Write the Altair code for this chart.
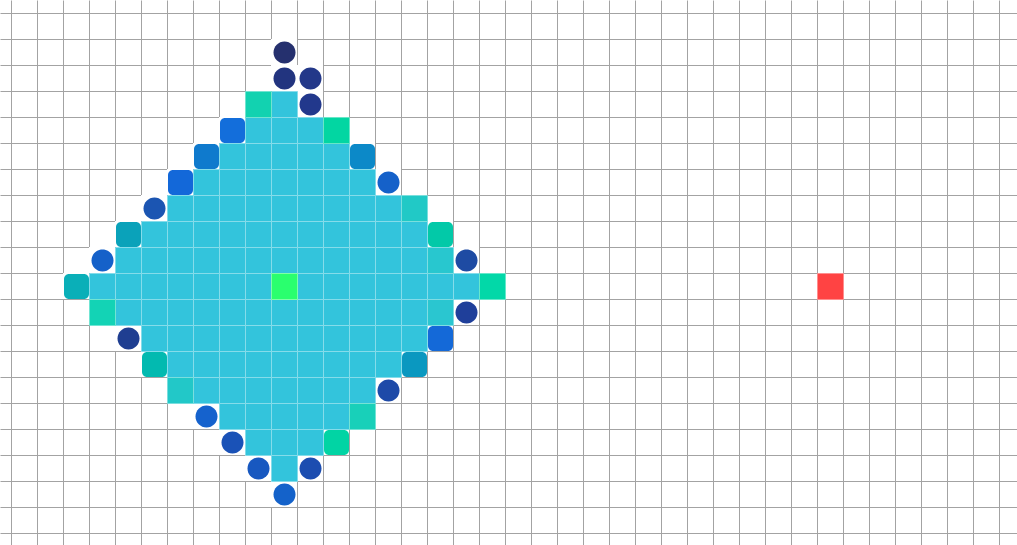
import altair as alt
import pandas as pd

# Cyan body of the diamond: for each row, first and last cyan column
cyan_rows = [3, 4, 5, 6, 7, 8, 9, 10, 11, 12, 13, 14, 15, 16, 17]
cyan_first = [10, 9, 8, 7, 6, 5, 4, 3, 4, 5, 6, 7, 8, 9, 10]
cyan_last = [10, 11, 12, 13, 14, 15, 15, 17, 15, 15, 14, 13, 12, 11, 10]
cyan_color = "#33C4DC"

# Special cells: column, row, colour, shape (sq = square, rr = rounded, ci = circle)
spec_cols = [10, 10, 11, 9, 11, 8, 12, 7, 13, 6, 14, 5, 15, 4, 16, 3, 16, 17,
             2, 10, 18, 31, 3, 16, 17, 4, 16, 5, 15, 6, 14, 7, 13, 8, 12, 9, 11, 10]
spec_rows = [1, 2, 2, 3, 3, 4, 4, 5, 5, 6, 6, 7, 7, 8, 8, 9, 9, 9,
             10, 10, 10, 10, 11, 11, 11, 12, 12, 13, 13, 14, 14, 15, 15, 16, 16, 17, 17, 18]
spec_colors = ["#25306E", "#22347F", "#233889", "#12D2B0", "#22388C", "#136EDB",
               "#02D6A2", "#0F7ACD", "#0C89C8", "#1368D9", "#1561C9", "#1B55B2",
               "#21C9C6", "#0AA2BA", "#02C9A8", "#1561C9", "#28C7CF", "#1E4BA3",
               "#0AAFB8", "#2AFF6E", "#02D8A8", "#FF4343", "#13D3B5", "#2AC6D0",
               "#1F3F9A", "#1F3E91", "#1469D8", "#02BAB0", "#0A98C0", "#22C8C8",
               "#1E4AA8", "#1562CD", "#18D0B9", "#1A52B7", "#01D4A4", "#1858C0",
               "#1C4DB0", "#1462CA"]
spec_shapes = ["ci", "ci", "ci", "sq", "ci", "rr", "sq", "rr", "rr", "rr", "ci", "ci",
               "sq", "rr", "rr", "ci", "sq", "ci", "rr", "sq", "sq", "sq", "sq", "sq",
               "ci", "ci", "rr", "rr", "rr", "sq", "ci", "ci", "sq", "ci", "rr", "ci",
               "ci", "ci"]


def lighten(hexcol, t=0.4):
    h = hexcol.lstrip("#")
    rgb = [int(h[i:i + 2], 16) for i in (0, 2, 4)]
    rgb = [round(v * (1 - t) + 255 * t) for v in rgb]
    return "#%02X%02X%02X" % tuple(rgb)


records = []
special = {(c, r) for c, r in zip(spec_cols, spec_rows)}
for r, a, b in zip(cyan_rows, cyan_first, cyan_last):
    for c in range(a, b + 1):
        if (c, r) not in special:
            records.append(dict(c=c, r=r, fill=cyan_color, shape="sq"))
for c, r, col, s in zip(spec_cols, spec_rows, spec_colors, spec_shapes):
    records.append(dict(c=c, r=r, fill=col, shape=s))

df = pd.DataFrame(records)
df["c2"] = df["c"] + 1
df["r2"] = df["r"] + 1
df["stroke"] = df["fill"].apply(lighten)

xscale = alt.Scale(domain=[-11 / 26, 1006 / 26], nice=False, zero=False)
yscale = alt.Scale(domain=[-13 / 26, 532 / 26], nice=False, zero=False, reverse=True)
xaxis = alt.Axis(values=list(range(0, 39)), grid=True, labels=False, ticks=False,
                 domain=False, title=None, gridColor="#A3A3A3", gridWidth=1, gridOpacity=1)
yaxis = alt.Axis(values=list(range(0, 21)), grid=True, labels=False, ticks=False,
                 domain=False, title=None, gridColor="#A3A3A3", gridWidth=1, gridOpacity=1)

base = alt.Chart(df).encode(
    x=alt.X("c:Q", scale=xscale, axis=xaxis),
    x2="c2:Q",
    y=alt.Y("r:Q", scale=yscale, axis=yaxis),
    y2="r2:Q",
)

white_bg = base.transform_filter("datum.shape != 'sq'").mark_rect(color="white")

squares = base.transform_filter("datum.shape == 'sq'").mark_rect(
    strokeWidth=1, xOffset=0.5, x2Offset=0.5, yOffset=0.5, y2Offset=0.5
).encode(
    fill=alt.Fill("fill:N", scale=None),
    stroke=alt.Stroke("stroke:N", scale=None),
)

rounded = base.transform_filter("datum.shape == 'rr'").mark_rect(
    cornerRadius=5, xOffset=1, x2Offset=0, yOffset=1, y2Offset=0
).encode(fill=alt.Fill("fill:N", scale=None))

circles = base.transform_filter("datum.shape == 'ci'").mark_rect(
    cornerRadius=11, xOffset=2.5, x2Offset=-1.5, yOffset=2.5, y2Offset=-1.5
).encode(fill=alt.Fill("fill:N", scale=None))

chart = alt.layer(white_bg, squares, rounded, circles).properties(
    width=1017, height=545, padding=0, autosize=alt.AutoSizeParams(type="none"),
    background="white"
).configure_view(stroke=None)

chart.save("out.html", embed_options={"renderer": "svg", "actions": False})
